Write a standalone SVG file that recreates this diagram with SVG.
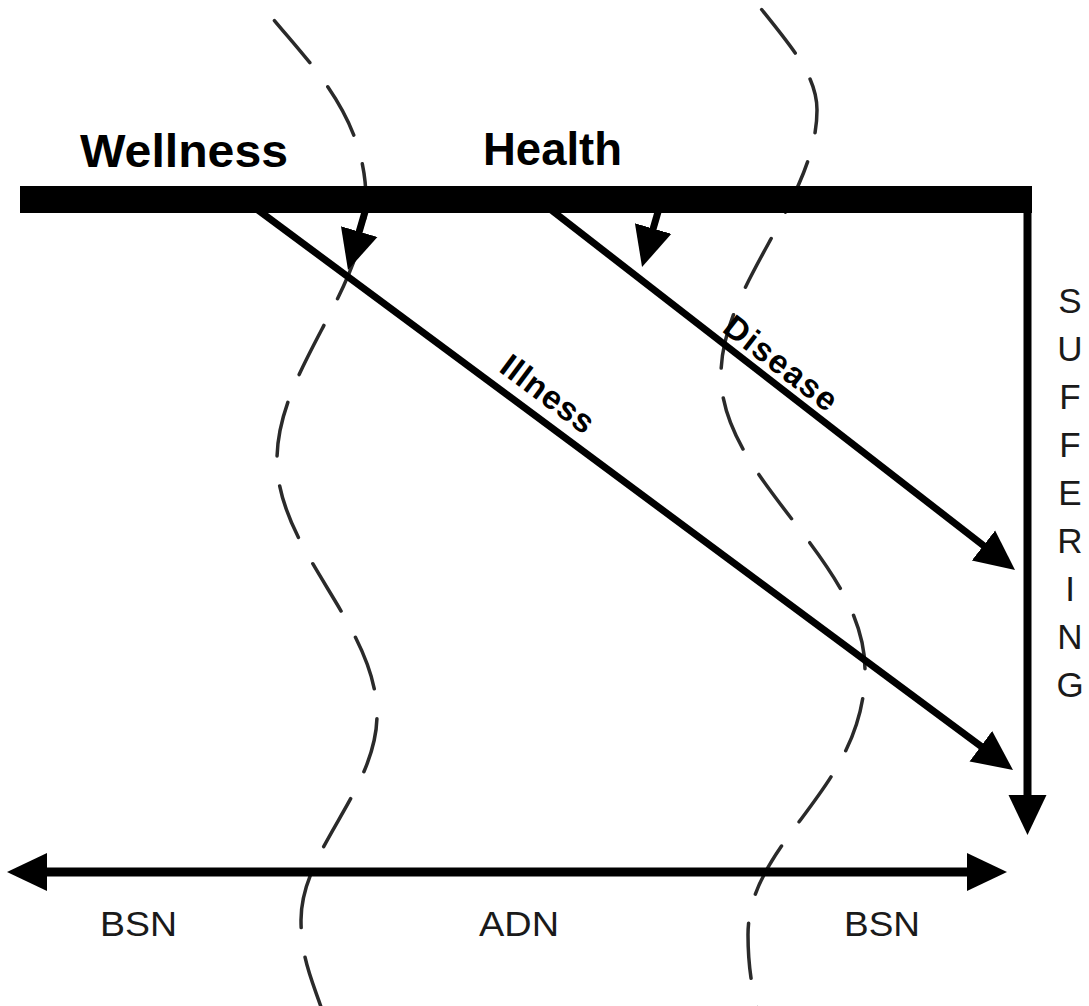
<svg xmlns="http://www.w3.org/2000/svg" width="1089" height="1006" viewBox="0 0 1089 1006">
  <style>
    .title { font-family: "Liberation Sans", Arial, sans-serif; font-weight: bold; font-size: 46px; fill: #000; }
    .diag { font-family: "Liberation Sans", Arial, sans-serif; font-weight: bold; font-size: 33px; fill: #000; }
    .lab { font-family: "Liberation Sans", Arial, sans-serif; font-size: 35px; fill: #1a1a1a; }
    .line { stroke: #000; fill: none; stroke-linecap: butt; }
    .wave { stroke: #2a2a2a; fill: none; stroke-width: 3.5; stroke-dasharray: 55 30; stroke-linecap: round; }
  </style>
  <defs>
    <marker id="head" markerUnits="userSpaceOnUse" viewBox="0 0 40 40" markerWidth="40" markerHeight="40" refX="15" refY="20" orient="auto-start-reverse">
      <path d="M0,1 L40,20 L0,39 Z" fill="#000"/>
    </marker>
  </defs>
  <rect width="1089" height="1006" fill="#fff"/>

  <g id="boundaries">
    <path class="wave" stroke-dashoffset="-20" d="M262,5 C300,55 366,110 366,200 C366,290 277,370 277,460 C277,550 377,625 377,715 C377,790 301,850 301,920 C301,960 314,985 322,1010"/>
    <path class="wave" stroke-dashoffset="-12" d="M754,0 C790,45 817,75 817,110 C817,200 721,285 721,375 C721,480 865,560 865,670 C865,790 748,840 748,935 C748,965 752,990 758,1010"/>
  </g>

  <g id="wellness-label">
    <text class="title" x="80" y="167" textLength="208" lengthAdjust="spacingAndGlyphs">Wellness</text>
  </g>
  <g id="health-label">
    <text class="title" x="483" y="165" textLength="139" lengthAdjust="spacingAndGlyphs">Health</text>
  </g>

  <g id="continuum-bar">
    <rect x="20" y="186" width="1012" height="27" fill="#000"/>
  </g>

  <g id="connectors">
    <line id="suffering-arrow" class="line" x1="1027.5" y1="190" x2="1027.5" y2="810" stroke-width="8" marker-end="url(#head)"/>
    <line id="illness-arrow" class="line" x1="252.4" y1="205.9" x2="992.9" y2="755.1" stroke-width="7" marker-end="url(#head)"/>
    <line id="disease-arrow" class="line" x1="545.5" y1="205.6" x2="995.3" y2="554.7" stroke-width="7" marker-end="url(#head)"/>
    <line id="wellness-drop" class="line" x1="367" y1="205" x2="355" y2="246" stroke-width="7" marker-end="url(#head)"/>
    <line id="health-drop" class="line" x1="660" y1="205" x2="649" y2="243" stroke-width="7" marker-end="url(#head)"/>
    <line id="education-axis" class="line" x1="32" y1="872" x2="982" y2="872" stroke-width="9" marker-start="url(#head)" marker-end="url(#head)"/>
  </g>

  <g id="illness-label">
    <text class="diag" x="0" y="0" text-anchor="middle" textLength="108" lengthAdjust="spacing" transform="translate(541,403) rotate(36.6)">Illness</text>
  </g>
  <g id="disease-label">
    <text class="diag" x="0" y="0" text-anchor="middle" textLength="134" lengthAdjust="spacing" transform="translate(774,372) rotate(37.8)">Disease</text>
  </g>

  <g id="suffering-label" class="lab" text-anchor="middle">
    <text x="1070" y="313">S</text>
    <text x="1070" y="361">U</text>
    <text x="1070" y="409">F</text>
    <text x="1070" y="457">F</text>
    <text x="1070" y="505">E</text>
    <text x="1070" y="553">R</text>
    <text x="1070" y="601">I</text>
    <text x="1070" y="649">N</text>
    <text x="1070" y="697">G</text>
  </g>

  <g id="bsn-left">
    <text class="lab" x="100" y="936" textLength="77" lengthAdjust="spacingAndGlyphs">BSN</text>
  </g>
  <g id="adn">
    <text class="lab" x="479" y="936" textLength="80" lengthAdjust="spacingAndGlyphs">ADN</text>
  </g>
  <g id="bsn-right">
    <text class="lab" x="844" y="936" textLength="76" lengthAdjust="spacingAndGlyphs">BSN</text>
  </g>
</svg>
